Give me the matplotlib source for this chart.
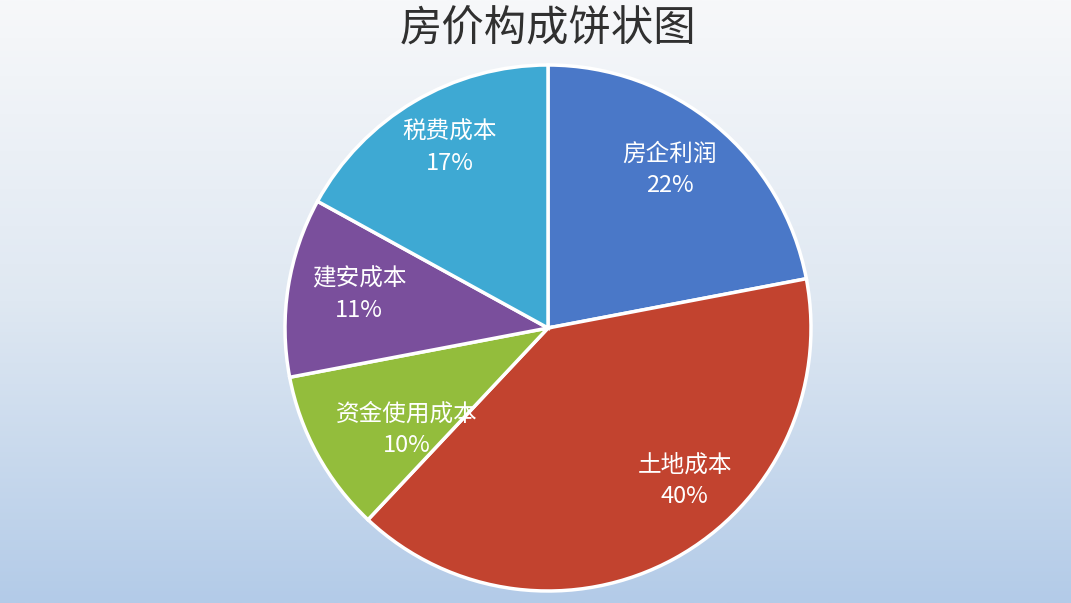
import numpy as np
import matplotlib
matplotlib.use("Agg")
import matplotlib.pyplot as plt
from matplotlib.colors import LinearSegmentedColormap

plt.rcParams['font.family'] = ['Noto Sans CJK SC', 'DejaVu Sans']

# data
labels = ['房企利润', '土地成本', '资金使用成本', '建安成本', '税费成本']
shares = [22, 40, 10, 11, 17]
colors = ['#4a78c8', '#c2432f', '#93bd3c', '#7a4f9c', '#3ea9d3']
title = '房价构成饼状图'

W, H = 1071, 603
fig = plt.figure(figsize=(W / 100, H / 100), dpi=100)

# gradient background, white on top to pale blue at the bottom
bg = fig.add_axes([0, 0, 1, 1])
grad = np.linspace(0, 1, 256).reshape(-1, 1)
cmap = LinearSegmentedColormap.from_list('bg', ['#f7f8fa', '#dfe8f2', '#b3cbe8'])
bg.imshow(grad, aspect='auto', cmap=cmap, extent=[0, 1, 0, 1], origin='upper')
bg.set_axis_off()

# pie axes: centre (548, 328) px, radius ~263 px
cx, cy, r = 548, 328, 263
ax = fig.add_axes([(cx - r) / W, (H - cy - r) / H, 2 * r / W, 2 * r / H])
wedges, _ = ax.pie(shares, colors=colors, startangle=90, counterclock=False,
                   wedgeprops=dict(edgecolor='white', linewidth=2.5))
ax.set_xlim(-1, 1)
ax.set_ylim(-1, 1)
ax.set_axis_off()

# label placement tweaks (excel moves some labels off the slice middle)
nudge = [2, 13, 7, -1, -2]
dist = [0.76, 0.78, 0.66, 0.73, 0.78]
for w, lab, s, dn, d in zip(wedges, labels, shares, nudge, dist):
    ang = np.deg2rad((w.theta1 + w.theta2) / 2 + dn)
    ax.text(d * np.cos(ang), d * np.sin(ang), '%s\n%d%%' % (lab, s),
            ha='center', va='center', color='white', fontsize=17,
            linespacing=1.45)

fig.text(cx / W, 1 - 29 / H, title, ha='center', va='center',
         fontsize=30.5, color='#303030')

fig.savefig('out.png', dpi=100)
